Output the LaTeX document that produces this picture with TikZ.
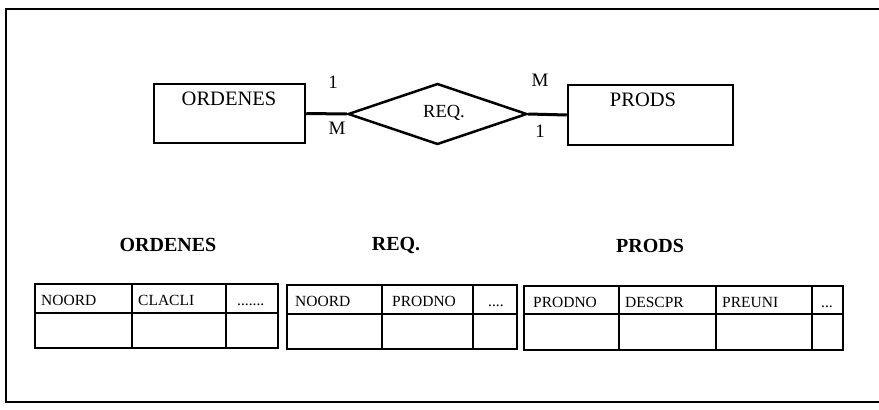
\documentclass[tikz,border=0pt]{standalone}
\usepackage{fontspec}
\setmainfont{Liberation Serif}
\usetikzlibrary{shapes.geometric}
\begin{document}
\begin{tikzpicture}[x=1pt,y=-1pt,
  entity/.style={draw,line width=2.5pt,minimum width=151pt,minimum height=59pt,inner sep=0pt},
  etext/.style={font=\fontsize{20.5}{24}\selectfont},
  card/.style={font=\fontsize{19}{22}\selectfont,inner sep=0pt},
  ttitle/.style={font=\fontsize{20}{24}\selectfont\bfseries,inner sep=0pt},
  cell/.style={font=\fontsize{15.5}{18}\selectfont,inner sep=0pt,anchor=base west},
  grid/.style={line width=2.2pt},
  frame/.style={line width=2pt}]
\useasboundingbox (0,0) rectangle (879,410);
% frame
\draw[frame] (879,9) -- (6,9) -- (6,402) -- (879,402);
% ER diagram
\node[entity] (ord) at (229.5,113.5) {};
\node[etext] (ordt) at (229,99) {ORDENES};
\node[entity,minimum width=165pt,minimum height=60pt] (prod) at (650.5,115) {};
\node[etext] (prodt) at (643,100) {PRODS};
\node[diamond,draw,line width=2.5pt,minimum width=179pt,minimum height=61pt,inner sep=0pt] (req) at (437.5,114) {};
\node[font=\fontsize{18.5}{22}\selectfont] (reqt) at (444,113) {REQ.};
\draw[line width=3pt] (ord.east) -- (req.west);
\draw[line width=3pt] (req.east) -- (prod.west);
\node[card] (c1) at (333,82) {1};
\node[card] (c2) at (337,128) {M};
\node[card] (c3) at (540,80) {M};
\node[card] (c4) at (540,131) {1};
% table titles
\node[ttitle] (t1) at (168,245) {ORDENES};
\node[ttitle] (t2) at (396,245) {REQ.};
\node[ttitle] (t3) at (650,246) {PRODS};
% table 1
\draw[grid] (35,284) rectangle (278,348);
\draw[grid] (35,313) -- (278,313);
\draw[grid] (132,284) -- (132,348);
\draw[grid] (226,284) -- (226,348);
\node[cell] (a1) at (41,305) {NOORD};
\node[cell] (a2) at (138,305) {CLACLI};
\node[cell] (a3) at (237,305) {.......};
% table 2
\draw[grid] (287,285) rectangle (517,349);
\draw[grid] (287,314) -- (517,314);
\draw[grid] (382,285) -- (382,349);
\draw[grid] (473,285) -- (473,349);
\node[cell] (b1) at (295,306) {NOORD};
\node[cell] (b2) at (392,306) {PRODNO};
\node[cell] (b3) at (488,306) {....};
% table 3
\draw[grid] (524,286) rectangle (843,350);
\draw[grid] (524,314) -- (843,314);
\draw[grid] (619,286) -- (619,350);
\draw[grid] (716,286) -- (716,350);
\draw[grid] (812,286) -- (812,350);
\node[cell] (d1) at (533,307) {PRODNO};
\node[cell] (d2) at (625,307) {DESCPR};
\node[cell] (d3) at (722,307) {PREUNI};
\node[cell] (d4) at (821,307) {...};
\end{tikzpicture}
\end{document}
